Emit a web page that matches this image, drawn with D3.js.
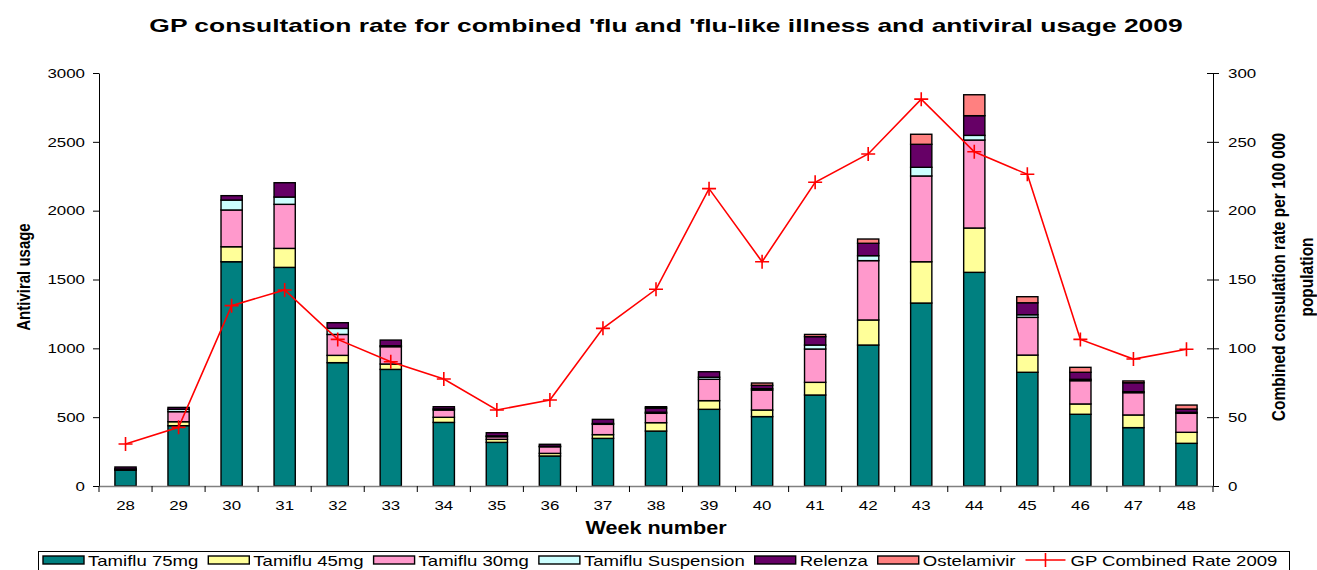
<!DOCTYPE html>
<html>
<head>
<meta charset="utf-8">
<script src="https://cdn.jsdelivr.net/npm/d3@7"></script>
<style>
  html, body { margin: 0; padding: 0; background: #fff; }
  svg { display: block; font-family: "Liberation Sans", Arial, sans-serif; }
</style>
</head>
<body>
<svg id="chart" width="1317" height="570"></svg>
<script>
'use strict';

var weeks = ['28', '29', '30', '31', '32', '33', '34', '35', '36', '37', '38',
  '39', '40', '41', '42', '43', '44', '45', '46', '47', '48'];

var seriesNames = ['Tamiflu 75mg', 'Tamiflu 45mg', 'Tamiflu 30mg',
  'Tamiflu Suspension', 'Relenza', 'Ostelamivir'];

var tamiflu75 = [115, 438, 1629, 1588, 896, 847, 462, 317, 218, 346, 399,
  557, 504, 661, 1024, 1329, 1552, 826, 521, 424, 310];
var tamiflu45 = [3, 29, 109, 138, 53, 39, 37, 22, 19, 27, 61,
  63, 48, 92, 182, 300, 322, 125, 75, 92, 80];
var tamiflu30 = [4, 73, 267, 320, 152, 126, 53, 19, 48, 75, 68,
  155, 145, 242, 431, 623, 639, 274, 169, 162, 138];
var tamifluSusp = [2, 17, 72, 53, 44, 7, 8, 6, 4, 6, 8,
  15, 10, 29, 36, 63, 34, 19, 10, 7, 7];
var relenza = [14, 14, 32, 104, 41, 41, 16, 23, 14, 30, 30,
  40, 24, 61, 90, 167, 143, 87, 51, 65, 24];
var ostelamivir = [0, 0, 0, 0, 0, 0, 0, 0, 0, 0, 10,
  0, 17, 16, 31, 73, 152, 44, 36, 13, 29];

var gpRate = [30.5, 42.6, 131, 142.4, 106.5, 90.3, 77.7, 55.2, 62.5, 114.5, 142.9,
  216, 162.9, 220.6, 241.2, 281, 242.8, 226.4, 106.5, 92.2, 99.3];
var lineName = 'GP Combined Rate 2009';

var leftTicks = [0, 500, 1000, 1500, 2000, 2500, 3000];
var rightTicks = [0, 50, 100, 150, 200, 250, 300];

(function() {
  var svg = d3.select('#chart'),
      plot = { left: 99, right: 1213, top: 73, bottom: 486 },
      colors = ['#008080', '#ffff99', '#ff99cc', '#ccffff', '#660066', '#ff8080'],
      stretch = 1.25,
      columns = [tamiflu75, tamiflu45, tamiflu30, tamifluSusp, relenza, ostelamivir],
      rows, stacked, x, yL, yR, step, gAxis;

  /**
   * The reference is drawn wide, so text is widened along its own x axis.
   * Moves the x/y attributes into a transform and scales from there.
   */
  function widen(sel, k) {
    sel.each(function() {
      var t = d3.select(this),
          tx = +t.attr('x') || 0,
          ty = +t.attr('y') || 0;
      t.attr('x', 0).attr('y', 0)
        .attr('transform', 'translate(' + tx + ',' + ty + ') scale(' + k + ',1)');
    });
  }

  rows = weeks.map(function(w, i) {
    var row = { week: w };
    seriesNames.forEach(function(name, j) {
      row[name] = columns[j][i];
    });
    return row;
  });
  stacked = d3.stack().keys(seriesNames)(rows);

  x = d3.scaleBand()
    .domain(weeks)
    .range([plot.left, plot.right])
    .paddingInner(0.6)
    .paddingOuter(0.3);
  step = x.step();

  yL = d3.scaleLinear().domain([0, 3000]).range([plot.bottom, plot.top]);
  yR = d3.scaleLinear().domain([0, 300]).range([plot.bottom, plot.top]);

  // Title
  svg.append('text')
    .attr('x', 0).attr('y', 0)
    .attr('transform', 'translate(666,32) scale(1.39,1)')
    .attr('text-anchor', 'middle')
    .style('font-weight', 'bold')
    .style('font-size', '19px')
    .text('GP consultation rate for combined \'flu and \'flu-like illness and antiviral usage 2009');

  // Stacked bars
  svg.append('g')
    .attr('class', 'bars')
    .selectAll('g')
    .data(stacked)
    .join('g')
      .attr('fill', function(d, i) { return colors[i]; })
    .selectAll('rect')
    .data(function(d) { return d; })
    .join('rect')
      .filter(function(d) { return d[1] - d[0] > 0; })
      .attr('x', function(d) { return x(d.data.week); })
      .attr('y', function(d) { return yL(d[1]); })
      .attr('width', x.bandwidth())
      .attr('height', function(d) { return yL(d[0]) - yL(d[1]); })
      .attr('stroke', '#000')
      .attr('stroke-width', 1.4);

  // Left axis
  gAxis = svg.append('g')
    .attr('transform', 'translate(' + plot.left + ',0)')
    .call(d3.axisLeft(yL).tickValues(leftTicks).tickFormat(d3.format('d'))
      .tickSize(6).tickSizeOuter(0).tickPadding(8));
  gAxis.select('.domain').attr('stroke', '#000');
  gAxis.selectAll('text').style('font-size', '13.5px').attr('fill', '#000');
  widen(gAxis.selectAll('text'), stretch);

  // Right axis, ticks cross the line
  gAxis = svg.append('g')
    .attr('transform', 'translate(' + plot.right + ',0)')
    .call(d3.axisRight(yR).tickValues(rightTicks).tickFormat(d3.format('d'))
      .tickSize(6).tickSizeOuter(0).tickPadding(9));
  gAxis.select('.domain').attr('stroke', '#000');
  gAxis.selectAll('.tick line').attr('x1', -6);
  gAxis.selectAll('text').style('font-size', '13.5px').attr('fill', '#000');
  widen(gAxis.selectAll('text'), stretch);

  // Bottom axis: labels centred on bands, ticks between bands
  gAxis = svg.append('g')
    .attr('transform', 'translate(0,' + plot.bottom + ')')
    .call(d3.axisBottom(x).tickSize(0).tickSizeOuter(0).tickPadding(14));
  gAxis.select('.domain').attr('stroke', '#808080').attr('stroke-width', 1.5);
  gAxis.selectAll('text').style('font-size', '13.5px').attr('fill', '#000');
  widen(gAxis.selectAll('text'), stretch);
  gAxis.selectAll('line.sep')
    .data(weeks.concat(['end']))
    .join('line')
      .attr('class', 'sep')
      .attr('x1', function(d, i) { return plot.left + i * step; })
      .attr('x2', function(d, i) { return plot.left + i * step; })
      .attr('y1', 0)
      .attr('y2', 6)
      .attr('stroke', '#000');

  // Consultation rate line with + markers
  svg.append('path')
    .datum(gpRate)
    .attr('fill', 'none')
    .attr('stroke', '#ff0000')
    .attr('stroke-width', 1.6)
    .attr('d', d3.line()
      .x(function(d, i) { return x(weeks[i]) + x.bandwidth() / 2; })
      .y(function(d) { return yR(d); }));

  svg.append('g')
    .selectAll('path')
    .data(gpRate)
    .join('path')
      .attr('transform', function(d, i) {
        return 'translate(' + (x(weeks[i]) + x.bandwidth() / 2) + ',' + yR(d) + ')';
      })
      .attr('d', 'M-7,0H7M0,-7V7')
      .attr('stroke', '#ff0000')
      .attr('stroke-width', 1.6);

  // Axis titles
  svg.append('text')
    .attr('transform', 'translate(30,277) rotate(-90) scale(1,1.2)')
    .attr('text-anchor', 'middle')
    .style('font-weight', 'bold')
    .style('font-size', '15px')
    .text('Antiviral usage');

  svg.append('text')
    .attr('transform', 'translate(656,534) scale(1.2,1)')
    .attr('text-anchor', 'middle')
    .style('font-weight', 'bold')
    .style('font-size', '18px')
    .text('Week number');

  svg.append('text')
    .attr('transform', 'translate(1285,277) rotate(-90) scale(1,1.2)')
    .attr('text-anchor', 'middle')
    .style('font-weight', 'bold')
    .style('font-size', '15.5px')
    .text('Combined consulation rate per 100 000');

  svg.append('text')
    .attr('transform', 'translate(1313,277) rotate(-90) scale(1,1.2)')
    .attr('text-anchor', 'middle')
    .style('font-weight', 'bold')
    .style('font-size', '15.5px')
    .text('population');

  // Legend (sits on the bottom edge, as in the original)
  var legend = svg.append('g').attr('class', 'legend'),
      cursor = 43,
      legendStretch = 1.28,
      items = seriesNames.map(function(n, i) { return { name: n, color: colors[i] }; })
        .concat([{ name: lineName, line: true }]);

  legend.append('rect')
    .attr('x', 38.5).attr('y', 551.5)
    .attr('width', 1251).attr('height', 30)
    .attr('fill', '#fff')
    .attr('stroke', '#000');

  items.forEach(function(item) {
    var label;
    if (item.line) {
      legend.append('path')
        .attr('d', 'M' + cursor + ',560H' + (cursor + 40) +
          'M' + (cursor + 20) + ',553V567')
        .attr('stroke', '#ff0000')
        .attr('stroke-width', 1.6);
    } else {
      legend.append('rect')
        .attr('x', cursor).attr('y', 556)
        .attr('width', 41).attr('height', 8)
        .attr('fill', item.color)
        .attr('stroke', '#000')
        .attr('stroke-width', 1.4);
    }
    label = legend.append('text')
      .attr('transform', 'translate(' + (cursor + 45) + ',566) scale(' + legendStretch + ',1)')
      .style('font-size', '14.5px')
      .text(item.name);
    cursor += 45 + label.node().getComputedTextLength() * legendStretch + 10;
  });
})();
</script>
</body>
</html>
